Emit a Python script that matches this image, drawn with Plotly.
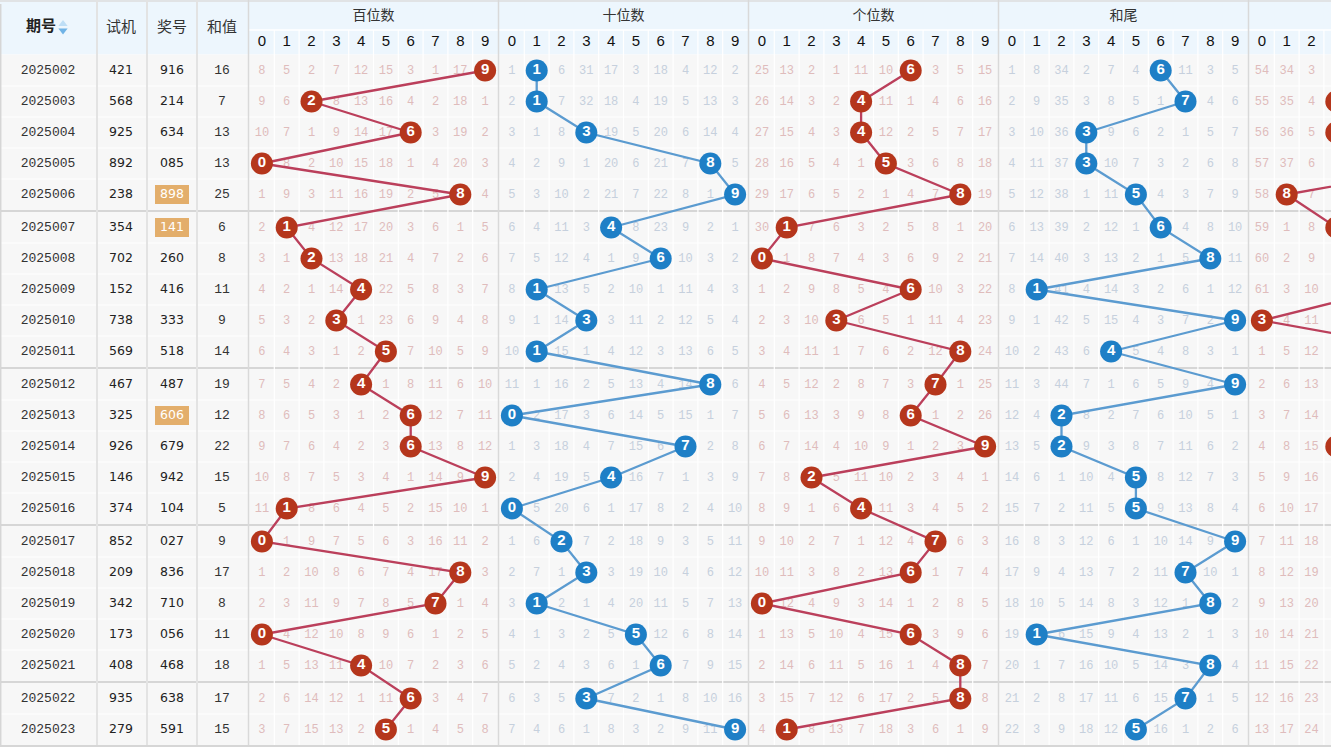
import plotly.graph_objects as go

# ---------------- data ----------------
periods = ["2025002", "2025003", "2025004", "2025005", "2025006", "2025007", "2025008",
           "2025009", "2025010", "2025011", "2025012", "2025013", "2025014", "2025015",
           "2025016", "2025017", "2025018", "2025019", "2025020", "2025021", "2025022",
           "2025023"]
trial = ["421", "568", "925", "892", "238", "354", "702", "152", "738", "569", "467",
         "325", "926", "146", "374", "852", "209", "342", "173", "408", "935", "279"]
prize = ["916", "214", "634", "085", "898", "141", "260", "416", "333", "518", "487",
         "606", "679", "942", "104", "027", "836", "710", "056", "468", "638", "591"]
sums = [16, 7, 13, 13, 25, 6, 8, 11, 9, 14, 19, 12, 22, 15, 5, 9, 17, 8, 11, 18, 17, 15]
highlighted = ["2025006", "2025007", "2025013"]

header_left = ["期号", "试机", "奖号", "和值"]
group_titles = ["百位数", "十位数", "个位数", "和尾", "跨度"]
digit_labels = ["0", "1", "2", "3", "4", "5", "6", "7", "8", "9"]

hundreds_hit = [9, 2, 6, 0, 8, 1, 2, 4, 3, 5, 4, 6, 6, 9, 1, 0, 8, 7, 0, 4, 6, 5]
tens_hit = [1, 1, 3, 8, 9, 4, 6, 1, 3, 1, 8, 0, 7, 4, 0, 2, 3, 1, 5, 6, 3, 9]
units_hit = [6, 4, 4, 5, 8, 1, 0, 6, 3, 8, 7, 6, 9, 2, 4, 7, 6, 0, 6, 8, 8, 1]
sumtail_hit = [6, 7, 3, 3, 5, 6, 8, 1, 9, 4, 9, 2, 2, 5, 5, 9, 7, 8, 1, 8, 7, 5]
span_hit = [8, 3, 3, 8, 1, 3, 6, 5, 0, 7, 4, 6, 3, 7, 4, 7, 5, 7, 6, 4, 5, 8]
span_label = ["8", "3", "3", "8", "8", "3", "6", "5", "3", "7", "4",
              "6", "3", "7", "4", "7", "5", "7", "6", "4", "5", "8"]

N = None
hundreds_miss = [
    [8, 5, 2, 7, 12, 15, 3, 1, 17, N], [9, 6, N, 8, 13, 16, 4, 2, 18, 1],
    [10, 7, 1, 9, 14, 17, N, 3, 19, 2], [N, 8, 2, 10, 15, 18, 1, 4, 20, 3],
    [1, 9, 3, 11, 16, 19, 2, 5, N, 4], [2, N, 4, 12, 17, 20, 3, 6, 1, 5],
    [3, 1, N, 13, 18, 21, 4, 7, 2, 6], [4, 2, 1, 14, N, 22, 5, 8, 3, 7],
    [5, 3, 2, N, 1, 23, 6, 9, 4, 8], [6, 4, 3, 1, 2, N, 7, 10, 5, 9],
    [7, 5, 4, 2, N, 1, 8, 11, 6, 10], [8, 6, 5, 3, 1, 2, N, 12, 7, 11],
    [9, 7, 6, 4, 2, 3, N, 13, 8, 12], [10, 8, 7, 5, 3, 4, 1, 14, 9, N],
    [11, N, 8, 6, 4, 5, 2, 15, 10, 1], [N, 1, 9, 7, 5, 6, 3, 16, 11, 2],
    [1, 2, 10, 8, 6, 7, 4, 17, N, 3], [2, 3, 11, 9, 7, 8, 5, N, 1, 4],
    [N, 4, 12, 10, 8, 9, 6, 1, 2, 5], [1, 5, 13, 11, N, 10, 7, 2, 3, 6],
    [2, 6, 14, 12, 1, 11, N, 3, 4, 7], [3, 7, 15, 13, 2, N, 1, 4, 5, 8],
]
tens_miss = [
    [1, N, 6, 31, 17, 3, 18, 4, 12, 2], [2, N, 7, 32, 18, 4, 19, 5, 13, 3],
    [3, 1, 8, N, 19, 5, 20, 6, 14, 4], [4, 2, 9, 1, 20, 6, 21, 7, N, 5],
    [5, 3, 10, 2, 21, 7, 22, 8, 1, N], [6, 4, 11, 3, N, 8, 23, 9, 2, 1],
    [7, 5, 12, 4, 1, 9, N, 10, 3, 2], [8, N, 13, 5, 2, 10, 1, 11, 4, 3],
    [9, 1, 14, N, 3, 11, 2, 12, 5, 4], [10, N, 15, 1, 4, 12, 3, 13, 6, 5],
    [11, 1, 16, 2, 5, 13, 4, 14, N, 6], [N, 2, 17, 3, 6, 14, 5, 15, 1, 7],
    [1, 3, 18, 4, 7, 15, 6, N, 2, 8], [2, 4, 19, 5, N, 16, 7, 1, 3, 9],
    [N, 5, 20, 6, 1, 17, 8, 2, 4, 10], [1, 6, N, 7, 2, 18, 9, 3, 5, 11],
    [2, 7, 1, N, 3, 19, 10, 4, 6, 12], [3, N, 2, 1, 4, 20, 11, 5, 7, 13],
    [4, 1, 3, 2, 5, N, 12, 6, 8, 14], [5, 2, 4, 3, 6, 1, N, 7, 9, 15],
    [6, 3, 5, N, 7, 2, 1, 8, 10, 16], [7, 4, 6, 1, 8, 3, 2, 9, 11, N],
]
units_miss = [
    [25, 13, 2, 1, 11, 10, N, 3, 5, 15], [26, 14, 3, 2, N, 11, 1, 4, 6, 16],
    [27, 15, 4, 3, N, 12, 2, 5, 7, 17], [28, 16, 5, 4, 1, N, 3, 6, 8, 18],
    [29, 17, 6, 5, 2, 1, 4, 7, N, 19], [30, N, 7, 6, 3, 2, 5, 8, 1, 20],
    [N, 1, 8, 7, 4, 3, 6, 9, 2, 21], [1, 2, 9, 8, 5, 4, N, 10, 3, 22],
    [2, 3, 10, N, 6, 5, 1, 11, 4, 23], [3, 4, 11, 1, 7, 6, 2, 12, N, 24],
    [4, 5, 12, 2, 8, 7, 3, N, 1, 25], [5, 6, 13, 3, 9, 8, N, 1, 2, 26],
    [6, 7, 14, 4, 10, 9, 1, 2, 3, N], [7, 8, N, 5, 11, 10, 2, 3, 4, 1],
    [8, 9, 1, 6, N, 11, 3, 4, 5, 2], [9, 10, 2, 7, 1, 12, 4, N, 6, 3],
    [10, 11, 3, 8, 2, 13, N, 1, 7, 4], [N, 12, 4, 9, 3, 14, 1, 2, 8, 5],
    [1, 13, 5, 10, 4, 15, N, 3, 9, 6], [2, 14, 6, 11, 5, 16, 1, 4, N, 7],
    [3, 15, 7, 12, 6, 17, 2, 5, N, 8], [4, N, 8, 13, 7, 18, 3, 6, 1, 9],
]
sumtail_miss = [
    [1, 8, 34, 2, 7, 4, N, 11, 3, 5], [2, 9, 35, 3, 8, 5, 1, N, 4, 6],
    [3, 10, 36, N, 9, 6, 2, 1, 5, 7], [4, 11, 37, N, 10, 7, 3, 2, 6, 8],
    [5, 12, 38, 1, 11, N, 4, 3, 7, 9], [6, 13, 39, 2, 12, 1, N, 4, 8, 10],
    [7, 14, 40, 3, 13, 2, 1, 5, N, 11], [8, N, 41, 4, 14, 3, 2, 6, 1, 12],
    [9, 1, 42, 5, 15, 4, 3, 7, 2, N], [10, 2, 43, 6, N, 5, 4, 8, 3, 1],
    [11, 3, 44, 7, 1, 6, 5, 9, 4, N], [12, 4, N, 8, 2, 7, 6, 10, 5, 1],
    [13, 5, N, 9, 3, 8, 7, 11, 6, 2], [14, 6, 1, 10, 4, N, 8, 12, 7, 3],
    [15, 7, 2, 11, 5, N, 9, 13, 8, 4], [16, 8, 3, 12, 6, 1, 10, 14, 9, N],
    [17, 9, 4, 13, 7, 2, 11, N, 10, 1], [18, 10, 5, 14, 8, 3, 12, 1, N, 2],
    [19, N, 6, 15, 9, 4, 13, 2, 1, 3], [20, 1, 7, 16, 10, 5, 14, 3, N, 4],
    [21, 2, 8, 17, 11, 6, 15, N, 1, 5], [22, 3, 9, 18, 12, N, 16, 1, 2, 6],
]
# span group: only the first columns are inside the visible window
span_miss = [
    [54, 34, 3, 1], [55, 35, 4, N], [56, 36, 5, N], [57, 37, 6, 1], [58, N, 7, 2],
    [59, 1, 8, N], [60, 2, 9, 1], [61, 3, 10, 2], [N, 4, 11, 3], [1, 5, 12, 4],
    [2, 6, 13, 5], [3, 7, 14, 6], [4, 8, 15, N], [5, 9, 16, 1], [6, 10, 17, 2],
    [7, 11, 18, 3], [8, 12, 19, 4], [9, 13, 20, 5], [10, 14, 21, 6], [11, 15, 22, 7],
    [12, 16, 23, 8], [13, 17, 24, 9],
]

# ---------------- layout helpers ----------------
W, H = 1331, 749
LEFT_CENTERS = [48, 121, 172, 222]
LEFT_BORDERS = [97, 147, 197]
GX0, GW, CW = 249.5, 250, 24.8
ROW0, RH, BLOCK, BGAP = 70.5, 31, 5, 2
HEAD_BOTTOM = 54.5

RED_BALL, RED_LINE, RED_TXT = "#b5361c", "#bb3f5b", "#dfbcbc"
BLUE_BALL, BLUE_LINE, BLUE_TXT = "#1e7fc6", "#5b9bd0", "#c6d0dd"

n = len(periods)


def cx(g, d):
    return GX0 + GW * g + CW / 2 + CW * d


def ry(i):
    return ROW0 + RH * i + BGAP * (i // BLOCK)


BODY_BOTTOM = ry(n - 1) + RH / 2

shapes = []


def rect(x0, y0, x1, y1, color):
    shapes.append(dict(type="rect", xref="x", yref="y", x0=x0, y0=y0, x1=x1, y1=y1,
                       fillcolor=color, line=dict(width=0), layer="below"))


def seg(x0, y0, x1, y1, color, w):
    shapes.append(dict(type="line", xref="x", yref="y", x0=x0, y0=y0, x1=x1, y1=y1,
                       line=dict(color=color, width=w), layer="below"))


# backgrounds
rect(0, 0, W, HEAD_BOTTOM, "#edf6fd")
rect(0, HEAD_BOTTOM, W, BODY_BOTTOM, "#f7f7f7")

# horizontal lines
for i in range(n - 1):
    if (i + 1) % BLOCK == 0:
        seg(0, ry(i) + RH / 2 + 1, W, ry(i) + RH / 2 + 1, "#d6d6d6", 2)
    else:
        seg(0, ry(i) + RH / 2, W, ry(i) + RH / 2, "#ffffff", 1.2)
seg(249, 30, W, 30, "#ffffff", 1.5)
seg(0, 1, W, 1, "#dcdcdc", 1.5)
seg(0, BODY_BOTTOM + 1, W, BODY_BOTTOM + 1, "#d6d6d6", 2)

# vertical lines
for g in range(5):
    for d in range(1, 10):
        x = GX0 + GW * g + CW * d
        seg(x, 30, x, BODY_BOTTOM, "#ffffff", 1.2)
    xg = GX0 + GW * g - 1
    seg(xg, 0, xg, BODY_BOTTOM, "#d9d9d9", 1.5)
for xb in LEFT_BORDERS:
    seg(xb, 0, xb, BODY_BOTTOM, "#e3e3e3", 2)
seg(0.7, 4, 0.7, BODY_BOTTOM, "#d6d6d6", 1.5)

# highlight boxes behind 奖号
for i, p in enumerate(periods):
    if p in highlighted:
        rect(LEFT_CENTERS[2] - 17, ry(i) - 9.5, LEFT_CENTERS[2] + 17, ry(i) + 9.5, "#e3ae6b")

fig = go.Figure()

# ---------------- left columns ----------------
ys = [ry(i) for i in range(n)]
fig.add_trace(go.Scatter(x=[LEFT_CENTERS[0]] * n, y=ys, mode="text", text=periods,
                         textfont=dict(family="Liberation Mono", size=13, color="#333333")))
fig.add_trace(go.Scatter(x=[LEFT_CENTERS[1]] * n, y=ys, mode="text", text=trial,
                         textfont=dict(family="DejaVu Sans", size=12.5, color="#222222")))
fig.add_trace(go.Scatter(x=[LEFT_CENTERS[2]] * n, y=ys, mode="text", text=prize,
                         textfont=dict(family="DejaVu Sans", size=12.5,
                                       color=["#ffffff" if p in highlighted else "#222222"
                                              for p in periods])))
fig.add_trace(go.Scatter(x=[LEFT_CENTERS[3]] * n, y=ys, mode="text", text=[str(s) for s in sums],
                         textfont=dict(family="Liberation Mono", size=13, color="#333333")))

# header texts
fig.add_trace(go.Scatter(x=[LEFT_CENTERS[0] - 7], y=[27], mode="text", text=[header_left[0]],
                         textfont=dict(family="Noto Sans CJK SC", size=15, color="#222222",
                                       weight="bold")))
fig.add_trace(go.Scatter(x=LEFT_CENTERS[1:], y=[28] * 3, mode="text", text=header_left[1:],
                         textfont=dict(family="Noto Sans CJK SC", size=15, color="#333333")))
# sort arrows
fig.add_trace(go.Scatter(x=[LEFT_CENTERS[0] + 15, LEFT_CENTERS[0] + 15], y=[24, 30.5],
                         mode="markers",
                         marker=dict(symbol=["triangle-up", "triangle-down"], size=[8, 8],
                                     color=["#a9d4f2", "#3a97dc"], line=dict(width=0))))

# group titles / digit headers (only those whose centre falls inside the window)
gx_titles, gy_titles, gt = [], [], []
for g, t in enumerate(group_titles):
    xc = GX0 + GW * g + 5 * CW
    if xc < W - 20:
        gx_titles.append(xc)
        gy_titles.append(16)
        gt.append(t)
fig.add_trace(go.Scatter(x=gx_titles, y=gy_titles, mode="text", text=gt,
                         textfont=dict(family="Noto Sans CJK SC", size=14, color="#333333")))
hx, hy, ht = [], [], []
for g in range(5):
    for d, lab in enumerate(digit_labels):
        if cx(g, d) < W - 6:
            hx.append(cx(g, d))
            hy.append(42)
            ht.append(lab)
fig.add_trace(go.Scatter(x=hx, y=hy, mode="text", text=ht,
                         textfont=dict(family="Liberation Sans", size=15, color="#111111")))

# ---------------- trend groups ----------------
groups = [
    (0, hundreds_miss, hundreds_hit, None, RED_BALL, RED_LINE, RED_TXT),
    (1, tens_miss, tens_hit, None, BLUE_BALL, BLUE_LINE, BLUE_TXT),
    (2, units_miss, units_hit, None, RED_BALL, RED_LINE, RED_TXT),
    (3, sumtail_miss, sumtail_hit, None, BLUE_BALL, BLUE_LINE, BLUE_TXT),
    (4, span_miss, span_hit, span_label, RED_BALL, RED_LINE, RED_TXT),
]

for g, miss, hit, labels, ball_c, line_c, txt_c in groups:
    mx, my, mt = [], [], []
    for i, row in enumerate(miss):
        for d, v in enumerate(row):
            if v is not None:
                mx.append(cx(g, d))
                my.append(ry(i))
                mt.append(str(v))
    fig.add_trace(go.Scatter(x=mx, y=my, mode="text", text=mt,
                             textfont=dict(family="Liberation Mono", size=12, color=txt_c)))

for g, miss, hit, labels, ball_c, line_c, txt_c in groups:
    bx = [cx(g, h) for h in hit]
    fig.add_trace(go.Scatter(x=bx, y=ys, mode="lines",
                             line=dict(color=line_c, width=2.3)))

for g, miss, hit, labels, ball_c, line_c, txt_c in groups:
    bx = [cx(g, h) for h in hit]
    lab = labels if labels is not None else [str(h) for h in hit]
    fig.add_trace(go.Scatter(x=bx, y=ys, mode="markers+text", text=lab,
                             textposition="middle center",
                             marker=dict(size=22, color=ball_c, line=dict(width=0)),
                             textfont=dict(family="Liberation Sans", size=15, color="#ffffff",
                                           weight="bold")))

fig.update_layout(
    width=W, height=H, margin=dict(l=0, r=0, t=0, b=0),
    paper_bgcolor="#ffffff", plot_bgcolor="#ffffff", showlegend=False,
    xaxis=dict(range=[0, W], visible=False, fixedrange=True),
    yaxis=dict(range=[H, 0], visible=False, fixedrange=True),
    shapes=shapes, hovermode=False,
)

fig.write_html("out.html", config={"displayModeBar": False})
